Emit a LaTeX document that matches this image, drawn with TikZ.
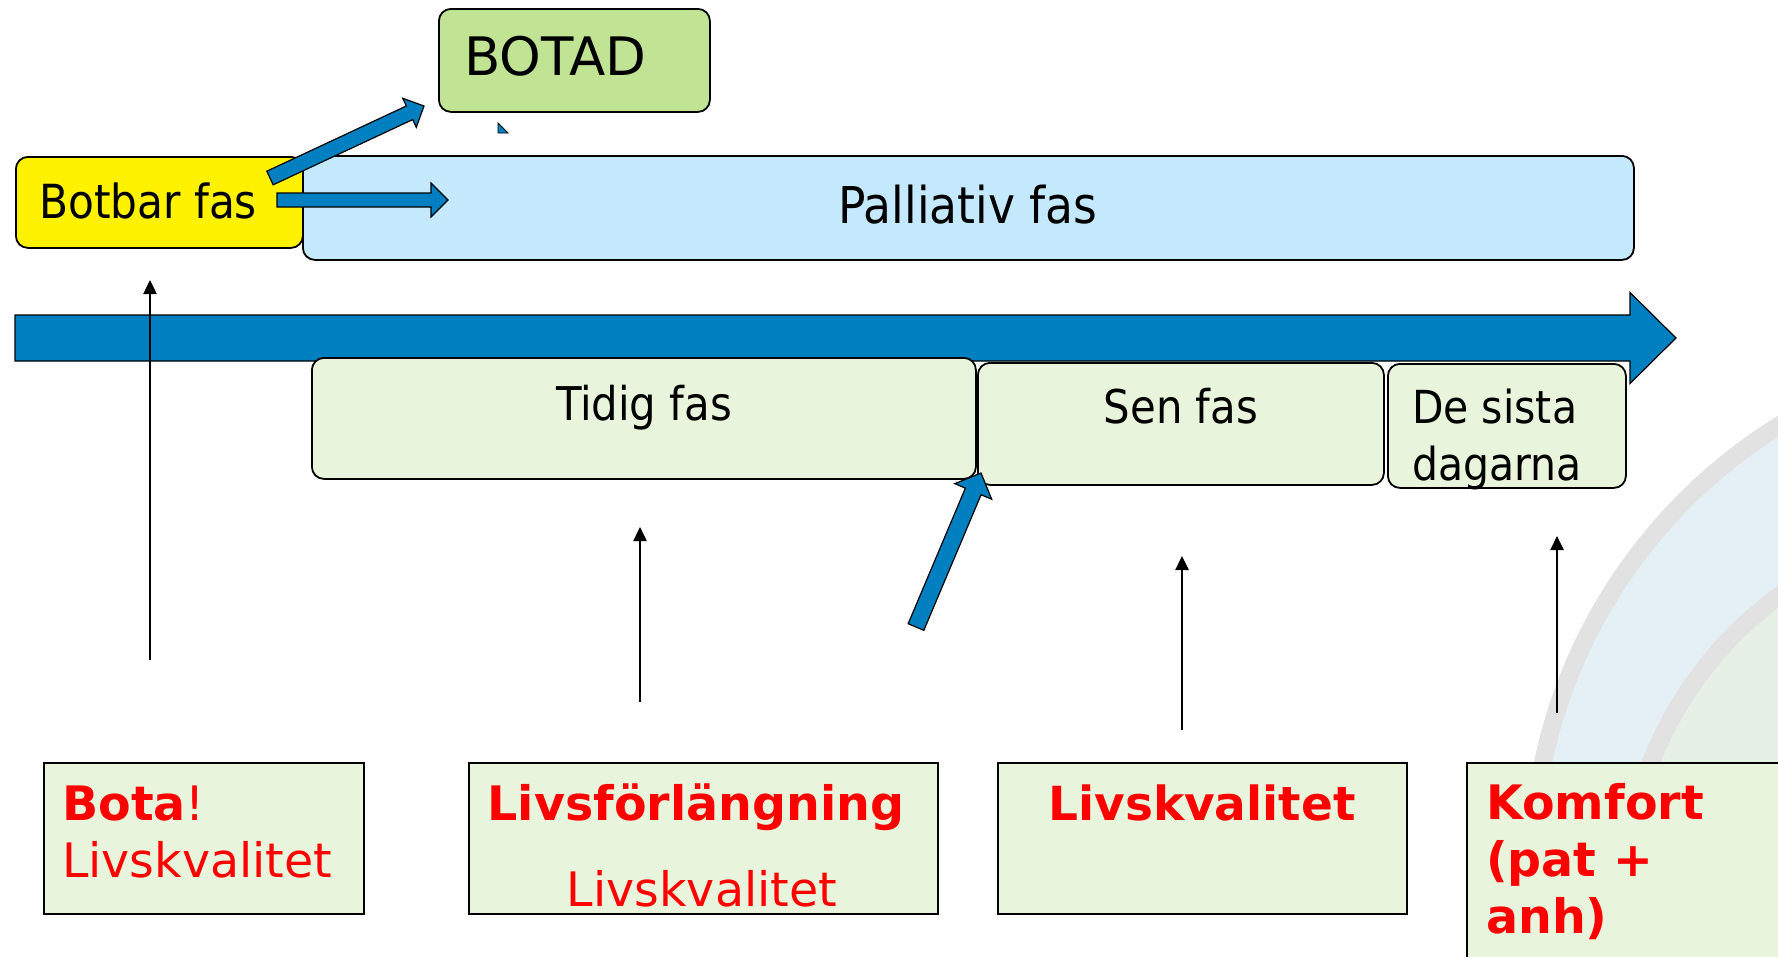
\documentclass[tikz,border=0pt]{standalone}
\usepackage{fontspec}
\setmainfont{DejaVu Sans}
\newfontfamily\condf{DejaVu Sans Condensed}[BoldFont={DejaVu Sans Condensed Bold}]
\usetikzlibrary{arrows.meta,calc}
\definecolor{ablue}{RGB}{0,128,192}
\definecolor{palblue}{RGB}{197,233,252}
\definecolor{botgreen}{RGB}{192,227,148}
\definecolor{lgreen}{RGB}{232,245,220}
\definecolor{bgring}{RGB}{226,226,226}
\definecolor{bgblue}{RGB}{228,239,246}
\definecolor{bggreen}{RGB}{230,240,231}
\definecolor{txtred}{RGB}{255,0,0}
\newcommand\fsz[2]{\fontsize{#1pt}{#2pt}\selectfont}
\tikzset{
 phasebox/.style={draw=black, line width=1.8pt, rounded corners=12pt, anchor=north west, inner sep=0pt},
 goalbox/.style={draw=black, line width=2.2pt, fill=lgreen, anchor=north west, inner sep=0pt},
 txtw/.style={inner sep=0pt, anchor=base west},
 txtc/.style={inner sep=0pt, anchor=base},
 blockarrow/.style={fill=ablue, draw=black, line width=1.2pt, line join=miter},
 uparrow/.style={line width=2.5pt, -{Triangle[length=14pt,width=13pt]}},
 redtxt/.style={text=txtred}
}
\newcommand\blockarr[6]{%
 \coordinate (#6hb) at ($(#2)!#4!(#1)$);
 \draw[blockarrow] ($(#1)!#3!90:(#2)$) -- ($(#6hb)!#3!90:(#2)$) -- ($(#6hb)!#5!90:(#2)$) -- (#2)
   -- ($(#6hb)!#5!-90:(#2)$) -- ($(#6hb)!#3!-90:(#2)$) -- ($(#1)!#3!-90:(#2)$) -- cycle;}
\begin{document}
\begin{tikzpicture}[x=1pt,y=-1pt]
\useasboundingbox (0,0) rectangle (1778,956);
% background decoration
\begin{scope}
\clip (0,0) rectangle (1778,956);
\fill[bgring] (2055,870) circle[radius=532pt];
\fill[bgblue] (2055,870) circle[radius=514pt];
\fill[bgring] (2002,900) circle[radius=386pt];
\fill[bggreen] (2002,900) circle[radius=368pt];
\end{scope}
% top boxes
\node[phasebox, fill=palblue, minimum width=1331pt, minimum height=104pt] (pall) at (302,155) {};
\node[phasebox, fill=yellow, minimum width=287pt, minimum height=91pt] (botbar) at (15,156) {};
\node[phasebox, fill=botgreen, minimum width=271pt, minimum height=103pt] (botad) at (438,8) {};
\draw[fill=ablue, line width=0.8pt] (498,123) -- (498,133) -- (508,133) -- cycle;
\node[txtw, font=\fsz{53}{64}] (tbotad) at (464,75) {BOTAD};
\node[txtw, font=\condf\fsz{47}{56}] (tbotbar) at (39,218) {Botbar fas};
\node[txtc, font=\condf\fsz{50.7}{60}] (tpall) at (968,223) {Palliativ fas};
% blue arrows from Botbar
\coordinate (ba1) at (270,178); \coordinate (ba2) at (424,106);
\coordinate (bh1) at (277,200); \coordinate (bh2) at (448,200);
\blockarr{ba1}{ba2}{7.5pt}{16pt}{16pt}{bA}
\blockarr{bh1}{bh2}{7pt}{17pt}{17pt}{bH}
% main timeline arrow
\coordinate (tl1) at (15,338); \coordinate (tl2) at (1676,338);
\blockarr{tl1}{tl2}{23pt}{46pt}{45.5pt}{tL}
% phase boxes
\node[phasebox, fill=lgreen, minimum width=664pt, minimum height=121pt] (tidig) at (311,357) {};
\node[phasebox, fill=lgreen, minimum width=406pt, minimum height=122pt] (sen) at (977,362) {};
\node[phasebox, fill=lgreen, minimum width=238pt, minimum height=124pt] (sista) at (1387,363) {};
\node[txtc, font=\condf\fsz{46.5}{55}] (ttidig) at (644,420) {Tidig fas};
\node[txtc, font=\condf\fsz{46.5}{55}] (tsen) at (1181,423) {Sen fas};
\node[txtw, font=\condf\fsz{45.5}{54}] (tsista1) at (1412,423) {De sista};
\node[txtw, font=\condf\fsz{45.5}{54}] (tsista2) at (1412,480) {dagarna};
% diagonal arrow to Sen fas
\coordinate (da1) at (916,627); \coordinate (da2) at (981,473);
\blockarr{da1}{da2}{8.5pt}{20pt}{20pt}{dA}
% goal boxes
\node[goalbox, minimum width=320pt, minimum height=151pt] (gbota) at (43,762) {};
\node[goalbox, minimum width=469pt, minimum height=151pt] (gforl) at (468,762) {};
\node[goalbox, minimum width=409pt, minimum height=151pt] (gkval) at (997,762) {};
\node[goalbox, minimum width=340pt, minimum height=220pt] (gkomf) at (1466,762) {};
\node[txtw, redtxt, font=\fsz{47.5}{57}] (tbota) at (62,820) {\textbf{Bota}!};
\node[txtw, redtxt, font=\fsz{47.5}{57}] (tlk1) at (62,877) {Livskvalitet};
\node[txtc, redtxt, font=\fsz{47.5}{57}\bfseries] (tlf) at (696,820) {Livsförlängning};
\node[txtc, redtxt, font=\fsz{47.5}{57}] (tlk2) at (702,906) {Livskvalitet};
\node[txtc, redtxt, font=\fsz{47}{57}\bfseries] (tlk3) at (1202,820) {Livskvalitet};
\node[txtw, redtxt, font=\fsz{47.5}{57}\bfseries] (tkom1) at (1486,819) {Komfort};
\node[txtw, redtxt, font=\fsz{47.5}{57}\bfseries] (tkom2) at (1486,876) {(pat +};
\node[txtw, redtxt, font=\fsz{47.5}{57}\bfseries] (tkom3) at (1486,933) {anh)};
% thin black arrows
\coordinate (v1s) at (150,660); \coordinate (v1e) at (150,280);
\coordinate (v2s) at (640,702); \coordinate (v2e) at (640,527);
\coordinate (v3s) at (1182,730); \coordinate (v3e) at (1182,556);
\coordinate (v4s) at (1557,713); \coordinate (v4e) at (1557,536);
\draw[uparrow] (v1s) -- (v1e);
\draw[uparrow] (v2s) -- (v2e);
\draw[uparrow] (v3s) -- (v3e);
\draw[uparrow] (v4s) -- (v4e);
\end{tikzpicture}
\end{document}
